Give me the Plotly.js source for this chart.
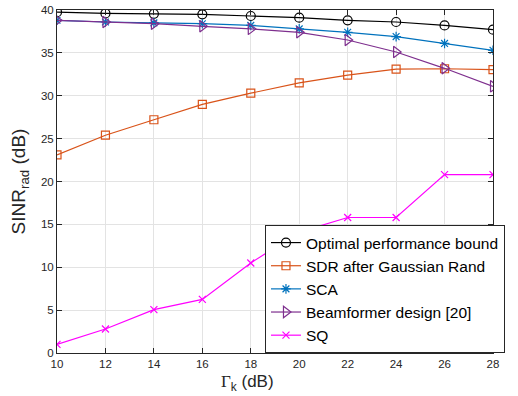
<!DOCTYPE html>
<html>
<head>
<meta charset="utf-8">
<script src="https://cdn.plot.ly/plotly-3.0.1.min.js"></script>
<style>html,body{margin:0;padding:0;background:#fff;}#chart{width:518px;height:396px;}</style>
</head>
<body>
<div id="chart"></div>
<script>
const gammaK = [10, 12, 14, 16, 18, 20, 22, 24, 26, 28];
const optimalBound = [39.75, 39.6, 39.55, 39.5, 39.3, 39.1, 38.8, 38.6, 38.2, 37.7];
const sdrGaussian = [23.1, 25.4, 27.2, 29.0, 30.3, 31.5, 32.4, 33.1, 33.15, 33.05];
const sca = [38.8, 38.6, 38.5, 38.4, 38.2, 37.8, 37.4, 36.9, 36.1, 35.3];
const beamformer20 = [38.8, 38.6, 38.4, 38.1, 37.8, 37.4, 36.5, 35.1, 33.2, 31.1];
const sq = [1.0, 2.8, 5.05, 6.25, 10.5, 14.1, 15.8, 15.8, 20.8, 20.8];
const seriesNames = ['Optimal performance bound', 'SDR after Gaussian Rand', 'SCA', 'Beamformer design [20]', 'SQ'];
const xTitle = '<span style="font-family:Liberation Serif, serif">Γ</span><sub>k</sub> (dB)';
const yTitle = 'SINR<sub>rad</sub> (dB)';

const mk = (y, name, color, symbol, size) => ({
  x: gammaK, y: y, name: name, type: 'scatter', mode: 'lines+markers',
  line: {color: color, width: 1.2},
  marker: {symbol: symbol, size: size, color: color, line: {color: color, width: 1.2}}
});

const data = [
  mk(optimalBound, seriesNames[0], '#000000', 'circle-open', 9),
  mk(sdrGaussian, seriesNames[1], '#D95319', 'square-open', 8),
  mk(sca, seriesNames[2], '#0072BD', 'asterisk-open', 8),
  mk(beamformer20, seriesNames[3], '#7E2F8E', 'triangle-right-open', 10),
  mk(sq, seriesNames[4], '#FF00FF', 'x-thin-open', 7)
];

const FONT = 'Liberation Sans, Arial, sans-serif';
const axisCommon = {
  showline: true, linecolor: '#262626', linewidth: 1, mirror: 'ticks',
  ticks: 'inside', ticklen: 5, tickcolor: '#262626',
  showgrid: true, gridcolor: '#e3e3e3', gridwidth: 1, zeroline: false,
  tickfont: {family: FONT, size: 11.5, color: '#262626'}
};

const layout = {
  width: 518, height: 396,
  margin: {l: 57, r: 25, t: 10, b: 43},
  paper_bgcolor: '#ffffff', plot_bgcolor: '#ffffff',
  showlegend: true,
  xaxis: Object.assign({}, axisCommon, {
    range: [10, 28], tickvals: [10, 12, 14, 16, 18, 20, 22, 24, 26, 28]
  }),
  yaxis: Object.assign({}, axisCommon, {
    range: [0, 40], tickvals: [0, 5, 10, 15, 20, 25, 30, 35, 40],
    title: {text: yTitle, font: {family: FONT, size: 19, color: '#262626'}, standoff: 10}
  }),
  annotations: [{
    text: xTitle, xref: 'paper', yref: 'paper', x: 0.437, y: 0,
    xanchor: 'center', yanchor: 'top', yshift: -17, showarrow: false,
    font: {family: FONT, size: 17, color: '#262626'}
  }],
  legend: {
    x: 0.477, y: 0, xanchor: 'left', yanchor: 'bottom',
    bgcolor: '#ffffff', bordercolor: '#262626', borderwidth: 1,
    font: {family: FONT, size: 15.5, color: '#000000'},
    tracegroupgap: 0
  }
};

Plotly.newPlot('chart', data, layout, {displayModeBar: false, staticPlot: true});
</script>
</body>
</html>
